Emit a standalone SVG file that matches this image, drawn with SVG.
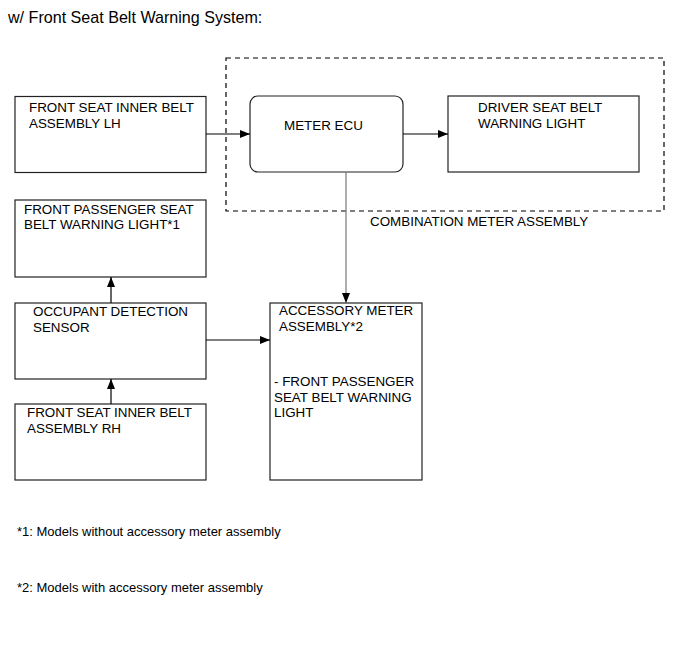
<svg xmlns="http://www.w3.org/2000/svg" width="691" height="659" viewBox="0 0 691 659">
<defs>
<marker id="arr" markerWidth="10" markerHeight="8" refX="10" refY="4" orient="auto" markerUnits="userSpaceOnUse">
<path d="M0,0 L10,4 L0,8 Z" fill="#000"/>
</marker>
<style>
text{font-family:"Liberation Sans",Arial,sans-serif;fill:#000}
.t{font-size:13.4px}
.n{font-size:13px}
.box{fill:#fff;stroke:#222;stroke-width:1.2}
.ln{stroke:#000;stroke-width:1.2;fill:none}
.gl{stroke:#777;stroke-width:1.2;fill:none}
</style>
</defs>
<rect width="691" height="659" fill="#fff"/>
<text x="8" y="23" font-size="16.1">w/ Front Seat Belt Warning System:</text>
<g id="combination">
<rect x="226" y="58" width="438" height="153" fill="none" stroke="#000" stroke-width="1.2" stroke-dasharray="5,4"/>
<text class="t" x="370" y="226">COMBINATION METER ASSEMBLY</text>
</g>
<g id="lh">
<rect class="box" x="15" y="96.5" width="191" height="76"/>
<text class="t" x="29" y="112">FRONT SEAT INNER BELT</text>
<text class="t" x="29" y="127.5">ASSEMBLY LH</text>
</g>
<g id="ecu">
<rect class="box" x="250" y="96" width="153" height="76" rx="8"/>
<text class="t" x="284" y="130">METER ECU</text>
</g>
<g id="driver">
<rect class="box" x="448" y="96" width="191" height="76"/>
<text class="t" x="478" y="112">DRIVER SEAT BELT</text>
<text class="t" x="478" y="127.5">WARNING LIGHT</text>
</g>
<g id="fp">
<rect class="box" x="15" y="200" width="191" height="77"/>
<text class="t" x="24" y="214">FRONT PASSENGER SEAT</text>
<text class="t" x="24" y="229">BELT WARNING LIGHT*1</text>
</g>
<g id="occ">
<rect class="box" x="15" y="303" width="191" height="76"/>
<text class="t" x="33" y="316">OCCUPANT DETECTION</text>
<text class="t" x="33" y="331.5">SENSOR</text>
</g>
<g id="rh">
<rect class="box" x="15" y="404" width="191" height="76"/>
<text class="t" x="27" y="417">FRONT SEAT INNER BELT</text>
<text class="t" x="27" y="432.5">ASSEMBLY RH</text>
</g>
<g id="acc">
<rect class="box" x="270" y="303" width="152" height="177"/>
<text class="t" x="279" y="315">ACCESSORY METER</text>
<text class="t" x="279" y="331">ASSEMBLY*2</text>
<text class="t" x="274" y="386">- FRONT PASSENGER</text>
<text class="t" x="274" y="401.5">SEAT BELT WARNING</text>
<text class="t" x="274" y="417">LIGHT</text>
</g>
<g id="connectors">
<line class="ln" x1="206" y1="134" x2="250" y2="134" marker-end="url(#arr)"/>
<line class="ln" x1="403" y1="134" x2="448" y2="134" marker-end="url(#arr)"/>
<line class="gl" x1="346" y1="172" x2="346" y2="303" marker-end="url(#arr)"/>
<line class="ln" x1="111" y1="303" x2="111" y2="277" marker-end="url(#arr)"/>
<line class="ln" x1="111" y1="404" x2="111" y2="379" marker-end="url(#arr)"/>
<line class="ln" x1="206" y1="340" x2="270" y2="340" marker-end="url(#arr)"/>
</g>
<g id="notes">
<text class="n" x="17" y="536">*1: Models without accessory meter assembly</text>
<text class="n" x="17" y="592">*2: Models with accessory meter assembly</text>
</g>
</svg>
